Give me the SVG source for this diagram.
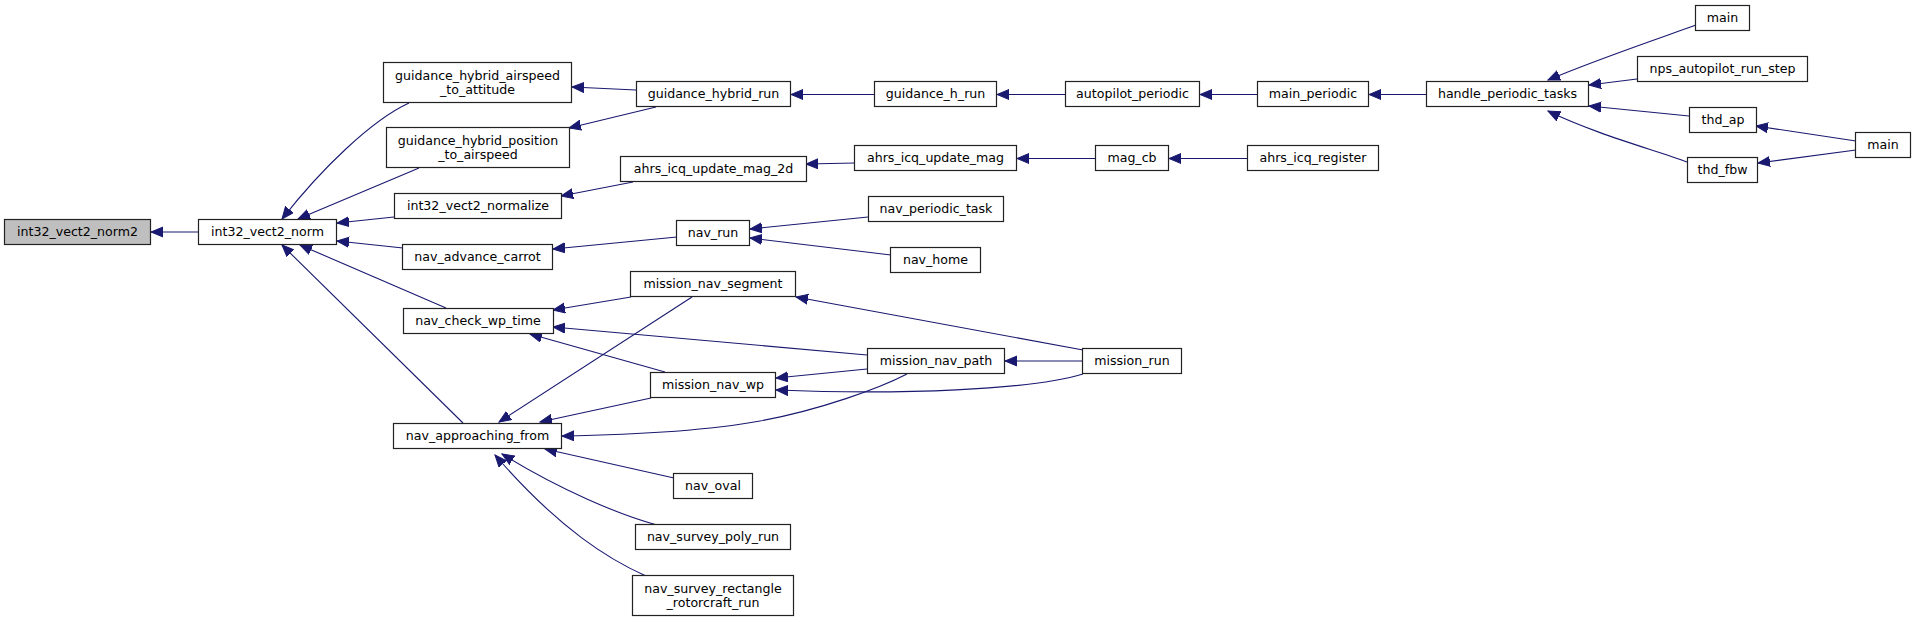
<svg xmlns="http://www.w3.org/2000/svg" width="1916" height="622" viewBox="0 0 1916 622">
<style>
.n rect{fill:#fff;stroke:#222;stroke-width:1.2}
.n.root rect{fill:#bfbfbf}
.n text{font-family:"DejaVu Sans",sans-serif;font-size:12.6px;text-anchor:middle;fill:#000}
.e path{fill:none;stroke:#191970;stroke-width:1.1;marker-end:url(#ah)}
</style>
<defs>
<marker id="ah" markerUnits="userSpaceOnUse" markerWidth="13" markerHeight="12" refX="12" refY="5.5" orient="auto">
<path d="M0,0.5 L12,5.5 L0,10.5 z" fill="#191970" stroke="#191970" stroke-width="1"/>
</marker>
</defs>
<rect width="1916" height="622" fill="#fff"/>
<g id="edges" class="e">
<path d="M198,232 L151,232"/>
<path d="M409,103 C372,120 322,168 282,219"/>
<path d="M419,168 L298,219"/>
<path d="M394,217 L337,223"/>
<path d="M403,248 L337,241"/>
<path d="M446,308 L300,245"/>
<path d="M463,423 L282,245"/>
<path d="M636,90 L572,87"/>
<path d="M656,107 L569,128"/>
<path d="M874,94.5 L791,94.5"/>
<path d="M1065,94.5 L997,94.5"/>
<path d="M1257,94.5 L1200,94.5"/>
<path d="M1426,94.5 L1369,94.5"/>
<path d="M1696,25 C1660,38 1595,60 1548,80"/>
<path d="M1637,79 L1589,85"/>
<path d="M1689,116 L1589,106"/>
<path d="M1687,162 C1655,150 1595,134 1548,111"/>
<path d="M1856,141 L1756,126"/>
<path d="M1856,150 L1758,163"/>
<path d="M633,182 L561,196"/>
<path d="M855,163 L806,164"/>
<path d="M1096,158.5 L1017,158.5"/>
<path d="M1248,158.5 L1169,158.5"/>
<path d="M677,237 L553,249"/>
<path d="M868,217 L750,229"/>
<path d="M891,255 L750,238"/>
<path d="M631,297 L553,310"/>
<path d="M867,355 L553,327"/>
<path d="M665,372 L530,334"/>
<path d="M692,297 L499,422"/>
<path d="M651,398 L540,422"/>
<path d="M907,374 C880,388 820,410 760,421 C700,432 620,435 562,436"/>
<path d="M1083,350 L796,297"/>
<path d="M1083,361 L1005,361"/>
<path d="M1083,374 C1030,390 900,395 776,390"/>
<path d="M867,369 L776,378"/>
<path d="M674,478 L545,449"/>
<path d="M657,525 C620,515 560,490 502,454"/>
<path d="M646,576 C610,560 560,530 495,455"/>
</g>
<g id="int32_vect2_norm2" class="n root"><rect x="4.5" y="219.5" width="146" height="25"/><text x="77.5" y="236">int32_vect2_norm2</text></g>
<g id="int32_vect2_norm" class="n"><rect x="198.5" y="219.5" width="138" height="25"/><text x="267.5" y="236">int32_vect2_norm</text></g>
<g id="guidance_hybrid_airspeed_to_attitude" class="n"><rect x="383.5" y="62.5" width="188" height="40"/><text x="477.5" y="79.5">guidance_hybrid_airspeed</text><text x="477.5" y="93.5">_to_attitude</text></g>
<g id="guidance_hybrid_position_to_airspeed" class="n"><rect x="386.5" y="127.5" width="183" height="40"/><text x="478" y="144.5">guidance_hybrid_position</text><text x="478" y="158.5">_to_airspeed</text></g>
<g id="int32_vect2_normalize" class="n"><rect x="394.5" y="193.5" width="167" height="25"/><text x="478" y="210">int32_vect2_normalize</text></g>
<g id="nav_advance_carrot" class="n"><rect x="402.5" y="244.5" width="150" height="25"/><text x="477.5" y="261">nav_advance_carrot</text></g>
<g id="nav_check_wp_time" class="n"><rect x="403.5" y="308.5" width="150" height="25"/><text x="478" y="325">nav_check_wp_time</text></g>
<g id="nav_approaching_from" class="n"><rect x="393.5" y="423.5" width="168" height="25"/><text x="477.5" y="440">nav_approaching_from</text></g>
<g id="guidance_hybrid_run" class="n"><rect x="636.5" y="81.5" width="154" height="25"/><text x="713.5" y="98">guidance_hybrid_run</text></g>
<g id="ahrs_icq_update_mag_2d" class="n"><rect x="620.5" y="156.5" width="186" height="25"/><text x="713.5" y="173">ahrs_icq_update_mag_2d</text></g>
<g id="nav_run" class="n"><rect x="676.5" y="220.5" width="73" height="25"/><text x="713" y="237">nav_run</text></g>
<g id="mission_nav_segment" class="n"><rect x="630.5" y="271.5" width="165" height="25"/><text x="713" y="288">mission_nav_segment</text></g>
<g id="mission_nav_wp" class="n"><rect x="650.5" y="372.5" width="125" height="25"/><text x="713" y="389">mission_nav_wp</text></g>
<g id="nav_oval" class="n"><rect x="673.5" y="473.5" width="79" height="25"/><text x="713" y="490">nav_oval</text></g>
<g id="nav_survey_poly_run" class="n"><rect x="635.5" y="524.5" width="155" height="25"/><text x="713" y="541">nav_survey_poly_run</text></g>
<g id="nav_survey_rectangle_rotorcraft_run" class="n"><rect x="632.5" y="575.5" width="161" height="40"/><text x="713" y="592.5">nav_survey_rectangle</text><text x="713" y="606.5">_rotorcraft_run</text></g>
<g id="guidance_h_run" class="n"><rect x="874.5" y="81.5" width="122" height="25"/><text x="935.5" y="98">guidance_h_run</text></g>
<g id="ahrs_icq_update_mag" class="n"><rect x="854.5" y="145.5" width="162" height="25"/><text x="935.5" y="162">ahrs_icq_update_mag</text></g>
<g id="nav_periodic_task" class="n"><rect x="868.5" y="196.5" width="135" height="25"/><text x="936" y="213">nav_periodic_task</text></g>
<g id="nav_home" class="n"><rect x="890.5" y="247.5" width="90" height="25"/><text x="935.5" y="264">nav_home</text></g>
<g id="mission_nav_path" class="n"><rect x="867.5" y="348.5" width="137" height="25"/><text x="936" y="365">mission_nav_path</text></g>
<g id="autopilot_periodic" class="n"><rect x="1065.5" y="81.5" width="134" height="25"/><text x="1132.5" y="98">autopilot_periodic</text></g>
<g id="mag_cb" class="n"><rect x="1095.5" y="145.5" width="73" height="25"/><text x="1132" y="162">mag_cb</text></g>
<g id="mission_run" class="n"><rect x="1082.5" y="348.5" width="99" height="25"/><text x="1132" y="365">mission_run</text></g>
<g id="main_periodic" class="n"><rect x="1257.5" y="81.5" width="111" height="25"/><text x="1313" y="98">main_periodic</text></g>
<g id="ahrs_icq_register" class="n"><rect x="1247.5" y="145.5" width="131" height="25"/><text x="1313" y="162">ahrs_icq_register</text></g>
<g id="handle_periodic_tasks" class="n"><rect x="1426.5" y="81.5" width="162" height="25"/><text x="1507.5" y="98">handle_periodic_tasks</text></g>
<g id="main_1" class="n"><rect x="1695.5" y="5.5" width="54" height="25"/><text x="1722.5" y="22">main</text></g>
<g id="nps_autopilot_run_step" class="n"><rect x="1637.5" y="56.5" width="170" height="25"/><text x="1722.5" y="73">nps_autopilot_run_step</text></g>
<g id="thd_ap" class="n"><rect x="1689.5" y="107.5" width="67" height="25"/><text x="1723" y="124">thd_ap</text></g>
<g id="thd_fbw" class="n"><rect x="1687.5" y="157.5" width="70" height="25"/><text x="1722.5" y="174">thd_fbw</text></g>
<g id="main_2" class="n"><rect x="1855.5" y="132.5" width="55" height="25"/><text x="1883" y="149">main</text></g>
</svg>
